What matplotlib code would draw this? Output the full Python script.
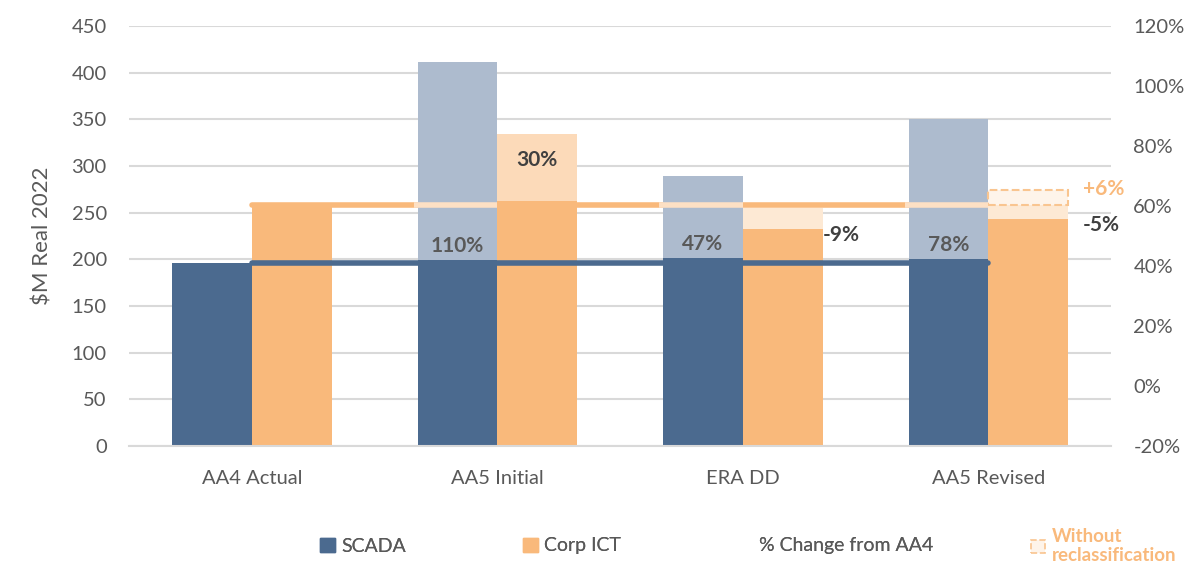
import numpy as np
import matplotlib
matplotlib.use("Agg")
import matplotlib.pyplot as plt
from matplotlib.patches import Patch, Rectangle
from matplotlib.lines import Line2D
from matplotlib.ticker import FuncFormatter

plt.rcParams['font.family'] = ['Lato', 'DejaVu Sans']

# $M Real 2022
categories = ['AA4 Actual', 'AA5 Initial', 'ERA DD', 'AA5 Revised']
scada_total = [196, 412, 289, 350]
scada_base = [196, 199, 201, 200]
corp_total = [258, 334, 232, 243]
corp_base = [258, 262, 232, 243]
corp_gap_top = [None, None, 255, 258]          # pale fill up to the AA4 level
corp_no_reclass = [None, None, None, 274]      # dashed box, without reclassification
scada_labels = [None, '110%', '47%', '78%']
corp_labels = [None, '30%', '-9%', '-5%']
no_reclass_labels = [None, None, None, '+6%']

aa4_scada = scada_total[0]
aa4_corp = corp_total[0]

DARK_BLUE = '#4b6a8f'
LIGHT_BLUE = '#adbbce'
ORANGE = '#f9b97b'
PALE_ORANGE = '#fcdab9'
PALER_ORANGE = '#fde9d4'
GREY_TXT = '#595959'

fig = plt.figure(figsize=(11.89, 5.66), dpi=100)
ax = fig.add_axes([0.1085, 0.212, 0.826, 0.742])

x = np.arange(len(categories))
w = 0.325
xs = x - w / 2
xc = x + w / 2

# SCADA: light total with dark base on top
ax.bar(xs, scada_total, w, color=LIGHT_BLUE, zorder=2)
ax.bar(xs, scada_base, w, color=DARK_BLUE, zorder=2.1)

# Corp ICT
for i in range(len(categories)):
    if corp_total[i] > corp_base[i]:
        ax.bar(xc[i], corp_total[i], w, color=PALE_ORANGE, zorder=2)
    if corp_gap_top[i] is not None:
        ax.bar(xc[i], corp_gap_top[i] - corp_base[i], w, bottom=corp_base[i],
               color=PALER_ORANGE, zorder=2)
    if corp_no_reclass[i] is not None:
        ax.add_patch(Rectangle((xc[i] - w / 2, aa4_corp), w, corp_no_reclass[i] - aa4_corp,
                               facecolor='#fef4ea', edgecolor='#f9c590', linestyle='--',
                               linewidth=1.5, zorder=2.2))
ax.bar(xc, corp_base, w, color=ORANGE, zorder=2.1)

# AA4 reference levels
ax.hlines(aa4_corp, x[0], x[-1], color=ORANGE, linewidth=4, zorder=1.5, capstyle='round')
for i in range(1, len(categories)):
    ax.hlines(aa4_corp, xs[i] - w / 2 - 0.015, xs[i] + w / 2, color='#fde0c4',
              linewidth=4, zorder=3)
ax.hlines(aa4_scada, x[0], x[-1], color=DARK_BLUE, linewidth=4, zorder=4, capstyle='round')

# value labels
for i in range(len(categories)):
    if scada_labels[i]:
        ax.text(xs[i], scada_base[i] + 5, scada_labels[i], ha='center', va='bottom',
                fontsize=15, fontweight='bold', color=GREY_TXT, zorder=5)
    if corp_labels[i]:
        if corp_total[i] > corp_base[i]:
            ax.text(xc[i], (corp_base[i] + corp_total[i]) / 2 + 8, corp_labels[i],
                    ha='center', va='center', fontsize=15, fontweight='bold',
                    color='#404040', zorder=5)
        else:
            dx = 0.0 if corp_no_reclass[i] is None else 0.06
            ax.text(xc[i] + w / 2 + dx, corp_total[i] - 6, corp_labels[i],
                    ha='left', va='center', fontsize=15, fontweight='bold',
                    color='#404040', zorder=5)
    if no_reclass_labels[i]:
        ax.text(xc[i] + w / 2 + 0.06, corp_no_reclass[i] + 1, no_reclass_labels[i],
                ha='left', va='center', fontsize=15, fontweight='bold',
                color=ORANGE, zorder=5)

ax.set_xlim(-0.5, len(categories) - 0.5)
ax.set_ylim(0, 450)
ax.set_yticks(np.arange(0, 451, 50))
ax.set_xticks(x)
ax.set_xticklabels(categories)
ax.yaxis.grid(True, color='#d9d9d9', linewidth=1.5, zorder=0)
ax.set_axisbelow(True)
for s in ['top', 'right', 'left']:
    ax.spines[s].set_visible(False)
ax.spines['bottom'].set_color('#d9d9d9')
ax.spines['bottom'].set_linewidth(1.5)
ax.tick_params(axis='both', length=0, labelsize=14.5, labelcolor=GREY_TXT)
ax.tick_params(axis='y', pad=16)
ax.tick_params(axis='x', pad=17)
ax.set_ylabel(r'\$M Real 2022', fontsize=16, color=GREY_TXT, labelpad=14)

ax2 = ax.twinx()
ax2.set_ylim(-0.2, 1.2)
ax2.set_yticks(np.arange(-0.2, 1.21, 0.2))
ax2.yaxis.set_major_formatter(FuncFormatter(lambda v, p: f'{v * 100:.0f}%'))
ax2.tick_params(axis='y', length=0, labelsize=14.5, labelcolor=GREY_TXT, pad=16)
for s in ax2.spines.values():
    s.set_visible(False)

handles = [Patch(color=DARK_BLUE), Patch(color=ORANGE), Line2D([], [], color='white')]
leg = ax.legend(handles, ['SCADA', 'Corp ICT', '% Change from AA4'], ncol=3,
                loc='center left', bbox_to_anchor=(0.2546, 1 - 546 / 566),
                bbox_transform=fig.transFigure,
                frameon=False, fontsize=14, handlelength=0.75, handleheight=0.75,
                handletextpad=0.35, columnspacing=6.0, labelcolor=GREY_TXT)
ax.add_artist(leg)

leg2 = fig.legend([Patch(facecolor='#fef4ea', edgecolor='#f9c590', linestyle='--', linewidth=1.2)],
                  ['Without\nreclassification'], loc='center left',
                  bbox_to_anchor=(0.853, 1 - 546 / 566), frameon=False, fontsize=13.5,
                  handlelength=0.75, handleheight=0.75, handletextpad=0.35)
for t in leg2.get_texts():
    t.set_color(ORANGE)
    t.set_fontweight('bold')

fig.savefig('out.png', dpi=100)
